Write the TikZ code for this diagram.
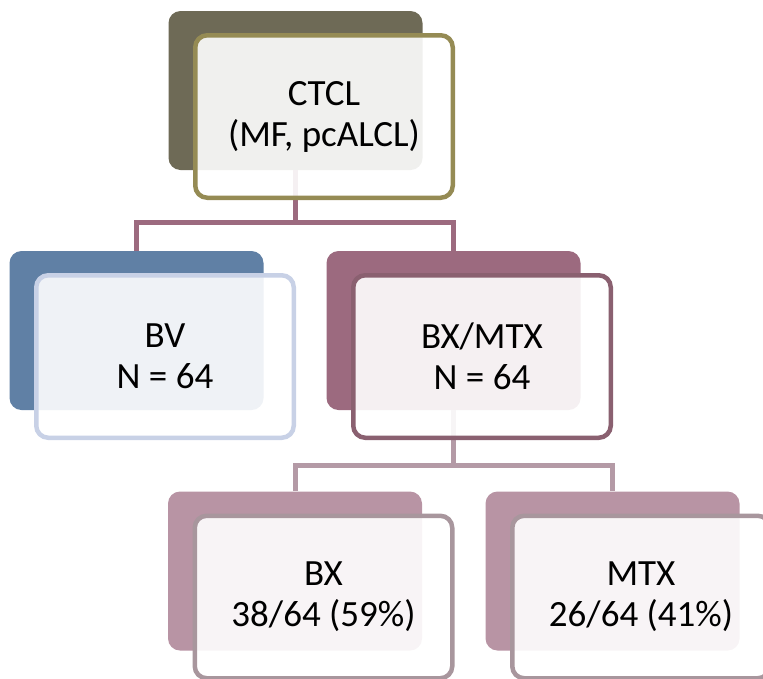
\documentclass[tikz,border=0pt]{standalone}
\usepackage{fontspec}
\setmainfont{Carlito}
\usepackage{tikz}
\usetikzlibrary{calc}
\definecolor{ctclback}{HTML}{6E6A56}
\definecolor{ctclline}{HTML}{958B54}
\definecolor{bvback}{HTML}{6080A5}
\definecolor{bvline}{HTML}{C8D1E6}
\definecolor{bxmback}{HTML}{9C6A7F}
\definecolor{bxmline}{HTML}{8A6070}
\definecolor{armback}{HTML}{B894A4}
\definecolor{armline}{HTML}{A8969D}
\definecolor{armlink}{HTML}{B49AA6}

\begin{document}
\begin{tikzpicture}[
  x=1pt,y=-1pt,
  bk/.style={rectangle,rounded corners=12pt,minimum width=254pt,minimum height=159pt,inner sep=0pt},
  fr/.style={rectangle,rounded corners=12pt,minimum width=257.5pt,minimum height=162.5pt,
    line width=4.5pt,fill=white,fill opacity=0.9,text opacity=1,align=center,
    font=\fontsize{37}{41}\selectfont},
  link/.style={line width=5pt,draw=bxmback},
  sublink/.style={line width=5pt,draw=armlink}
]
\clip (0,0) rectangle (763,678);
\useasboundingbox (0,0) rectangle (763,678);
% dark cards at the back
\node[bk,fill=ctclback] (ctclbk) at (295.5,90.5) {};
\node[bk,fill=bvback] (bvbk) at (136.5,330.5) {};
\node[bk,fill=bxmback] (bxmbk) at (453.5,330.5) {};
\node[bk,fill=armback] (bxbk) at (295,571) {};
\node[bk,fill=armback] (mtxbk) at (612.5,571) {};
% tree lines
\coordinate (split1) at (295.5,222);
\coordinate (split2) at (453.5,465);
\draw[link] (ctclbk.south) -- (split1) -| (bvbk.north);
\draw[link] (split1) -| (bxmbk.north);
\draw[sublink] (bxmbk.south) -- (split2) -| (bxbk.north);
\draw[sublink] (split2) -| (mtxbk.north);
% light cards in front
\node[fr,draw=ctclline] (ctcl) at ($(ctclbk)+(28.5,26)$) {CTCL\\(MF, pcALCL)};
\node[fr,draw=bvline] (bv) at ($(bvbk)+(28.5,26)$) {BV\\N = 64};
\node[fr,draw=bxmline] (bxm) at ($(bxmbk)+(28.5,26)$) {BX/MTX\\N = 64};
\node[fr,draw=armline] (bx) at ($(bxbk)+(28.5,26)$) {BX\\38/64 (59\%)};
\node[fr,draw=armline] (mtx) at ($(mtxbk)+(28.5,26)$) {MTX\\26/64 (41\%)};
\end{tikzpicture}
\end{document}
